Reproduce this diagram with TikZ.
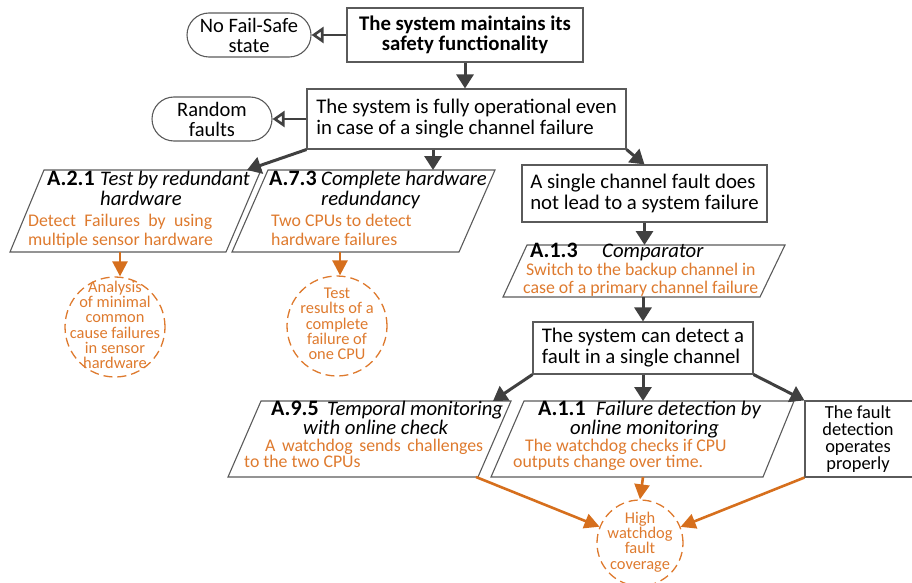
\documentclass[tikz,border=0pt]{standalone}
\usepackage{fontspec}
\setmainfont{Carlito}
\usetikzlibrary{arrows.meta}
\definecolor{ink}{HTML}{404040}
\definecolor{frame}{HTML}{5A5A5A}
\definecolor{amber}{HTML}{DE7A2E}
\definecolor{amberline}{HTML}{D66F1D}
\begin{document}
\begin{tikzpicture}[x=1pt,y=-1pt,
  box/.style={draw=frame,line width=1.1pt,inner sep=0pt,align=left,
    font=\fontsize{20.8}{21}\selectfont},
  pill/.style={draw=frame,line width=1.1pt,rounded corners=22pt,inner sep=0pt,
    align=center,font=\fontsize{20.5}{20}\selectfont},
  para/.style={draw=frame,line width=1.1pt},
  flow/.style={ink,line width=3pt,-{Triangle[length=14pt,width=17pt]}},
  cause/.style={ink,line width=2.6pt,-{Triangle[open,length=12pt,width=16pt,fill=white]}},
  evid/.style={amberline,line width=2.6pt,-{Triangle[length=15pt,width=15pt]}},
  goal/.style={circle,draw=amber,dash pattern=on 9pt off 5pt,line width=1.3pt,inner sep=0pt},
  goaltext/.style={text=amber,align=center,inner sep=0pt,font=\fontsize{16.4}{15.3}\selectfont},
  tag/.style={anchor=mid west,inner sep=0pt,font=\fontsize{22}{20}\selectfont\bfseries},
  ttl/.style={anchor=mid west,inner sep=0pt,font=\fontsize{20.7}{20}\selectfont\itshape},
  sub/.style={anchor=mid west,inner sep=0pt,text=amber,font=\fontsize{17.8}{18}\selectfont}]

\useasboundingbox (0,0) rectangle (912,583);
\clip (0,0) rectangle (912,583);

% ---- goal boxes ----
\node[box,align=center,minimum width=236pt,minimum height=54pt,
  font=\fontsize{20.8}{20.5}\selectfont\bfseries] (b1) at (465,35)
  {The system maintains its\\safety functionality};
\node[pill,minimum width=124pt,minimum height=44pt] (nf) at (249,35) {No Fail-Safe\\state};

\node[box,minimum width=319pt,minimum height=60pt] (b2) at (466.5,119)
  {The system is fully operational even\\in case of a single channel failure};
\node[pill,minimum width=120pt,minimum height=44pt] (rf) at (212,119) {Random\\faults};

\node[box,minimum width=245pt,minimum height=57pt] (b3) at (644.5,193.5)
  {A single channel fault does\\not lead to a system failure};

\node[box,minimum width=220pt,minimum height=52pt] (b4) at (643,348)
  {The system can detect a\\fault in a single channel};

\node[box,minimum width=125pt,minimum height=76pt] (b5) at (867.5,439) {};
\node[align=center,inner sep=0pt,font=\fontsize{18.4}{17}\selectfont] (b5t) at (858,439)
  {The fault\\detection\\operates\\properly};

% ---- strategy parallelograms ----
\coordinate (p1a) at (44,170);  \coordinate (p1b) at (261,170);
\coordinate (p1c) at (226,252); \coordinate (p1d) at (10,252);
\draw[para] (p1a) -- (p1b) -- (p1c) -- (p1d) -- cycle;
\coordinate (p1in) at (247,170); \coordinate (p1out) at (120,252);

\coordinate (p2a) at (268,170); \coordinate (p2b) at (495,170);
\coordinate (p2c) at (459,252); \coordinate (p2d) at (232,252);
\draw[para] (p2a) -- (p2b) -- (p2c) -- (p2d) -- cycle;
\coordinate (p2in) at (433,170); \coordinate (p2out) at (340,252);

\coordinate (p3a) at (527,245); \coordinate (p3b) at (785,245);
\coordinate (p3c) at (760,297); \coordinate (p3d) at (503,297);
\draw[para] (p3a) -- (p3b) -- (p3c) -- (p3d) -- cycle;
\coordinate (p3in) at (644.5,245); \coordinate (p3out) at (643,297);

\coordinate (p4a) at (261,401); \coordinate (p4b) at (511,401);
\coordinate (p4c) at (478,477); \coordinate (p4d) at (228,477);
\draw[para] (p4a) -- (p4b) -- (p4c) -- (p4d) -- cycle;
\coordinate (p4in) at (493,401); \coordinate (p4out) at (476,477);

\coordinate (p5a) at (524,401); \coordinate (p5b) at (794,401);
\coordinate (p5c) at (763,477); \coordinate (p5d) at (491,477);
\draw[para] (p5a) -- (p5b) -- (p5c) -- (p5d) -- cycle;
\coordinate (p5in) at (643,401); \coordinate (p5out) at (643,477);

% strategy texts
\node[tag] (s1tag) at (47,183) {A.2.1};
\node[ttl] (s1t1) at (100,183) {Test by redundant};
\node[ttl] (s1t2) at (100,203) {hardware};
\node[sub] (s1d1) at (28,224) {\makebox[184pt][s]{Detect Failures by using}};
\node[sub] (s1d2) at (28,243) {multiple sensor hardware};

\node[tag] (s2tag) at (269,183) {A.7.3};
\node[ttl] (s2t1) at (321,183) {Complete hardware};
\node[ttl] (s2t2) at (321,203) {redundancy};
\node[sub] (s2d1) at (271,224) {Two CPUs to detect};
\node[sub] (s2d2) at (271,243) {hardware failures};

\node[tag] (s3tag) at (530,255) {A.1.3};
\node[ttl] (s3t1) at (602,255) {Comparator};
\node[sub] (s3d1) at (526,273) {Switch to the backup channel in};
\node[sub] (s3d2) at (523,291) {case of a primary channel failure};

\node[tag] (s4tag) at (271,413) {A.9.5};
\node[ttl] (s4t1) at (327,413) {Temporal monitoring};
\node[ttl] (s4t2) at (303,432) {with online check};
\node[sub] (s4d1) at (265,449) {\makebox[218pt][s]{A watchdog sends challenges}};
\node[sub] (s4d2) at (244,465) {to the two CPUs};

\node[tag] (s5tag) at (538,413) {A.1.1};
\node[ttl] (s5t1) at (596,413) {Failure detection by};
\node[ttl] (s5t2) at (570,432) {online monitoring};
\node[sub] (s5d1) at (525,449) {The watchdog checks if CPU};
\node[sub] (s5d2) at (513,465) {outputs change over time.};

% ---- evidence circles ----
\node[goal,minimum size=100pt] (g1) at (115,327) {};
\node[goaltext] (g1t) at (115,325)
  {Analysis\\of minimal\\common\\cause failures\\in sensor\\hardware};
\node[goal,minimum size=100pt] (g2) at (337,326) {};
\node[goaltext] (g2t) at (337,324)
  {Test\\results of a\\complete\\failure of\\one CPU};
\node[goal,minimum size=86pt] (g3) at (640,543) {};
\node[goaltext] (g3t) at (640,542)
  {High\\watchdog\\fault\\coverage};

% ---- connectors ----
\draw[cause] (b1.west) -- (nf.east);
\draw[cause] (b2.west |- rf.east) -- (rf.east);
\draw[flow] (b1.south) -- (b1.south |- b2.north);
\draw[flow] (b2.south west) -- (p1in);
\draw[flow] (b2.south -| p2in) -- (p2in);
\draw[flow] (b2.south east) -- (b3.north);
\draw[flow] (b3.south) -- (p3in);
\draw[flow] (p3out) -- (b4.north);
\draw[flow] (b4.south west) -- (p4in);
\draw[flow] (b4.south) -- (p5in);
\draw[flow] (b4.south east) -- (b5.north west);

\draw[evid] (p1out) -- (p1out |- g1.north);
\draw[evid] (p2out) -- (p2out |- g2.north);
\draw[evid] (p4out) -- (g3);
\draw[evid] (p5out) -- (g3.north);
\draw[evid] (b5.south west) -- (g3);
\end{tikzpicture}
\end{document}
